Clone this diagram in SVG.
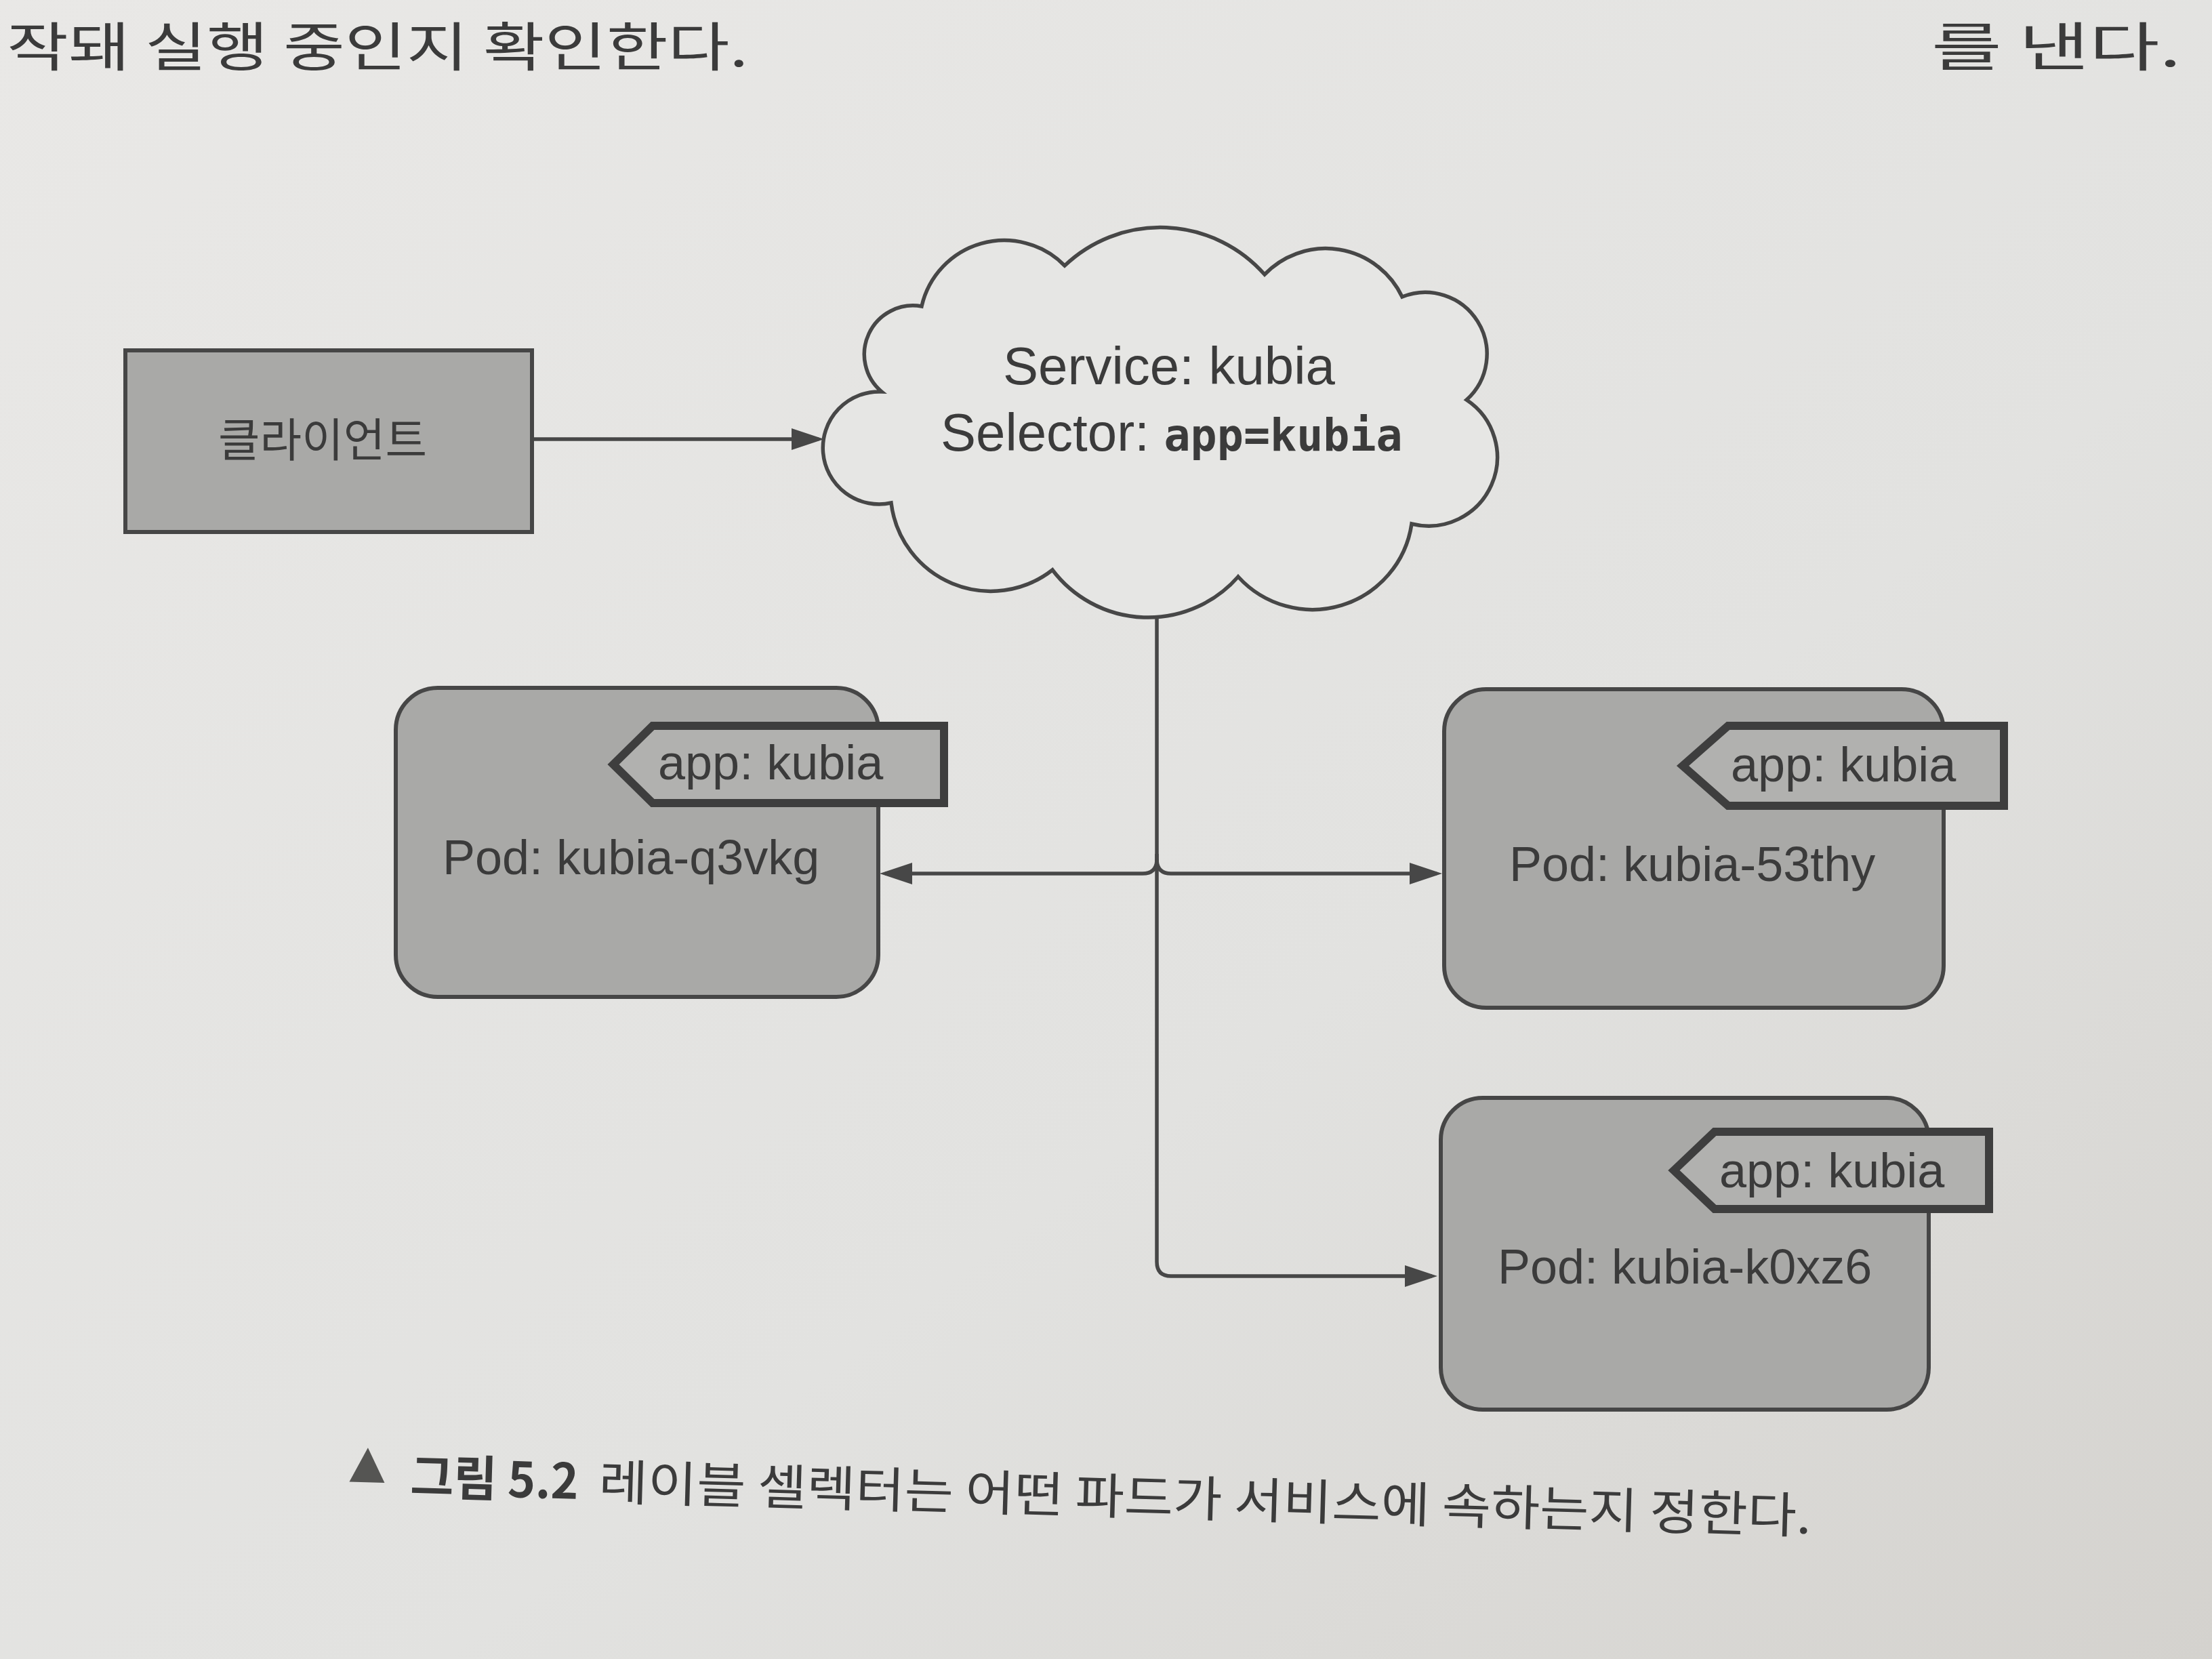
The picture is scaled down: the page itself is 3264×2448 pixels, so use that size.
<svg xmlns="http://www.w3.org/2000/svg" width="3264" height="2448" viewBox="0 0 3264 2448">
<style>
.ln{fill:none;stroke:#474747;stroke-width:5.5;stroke-linecap:butt;stroke-linejoin:round}
.box{fill:#a9a9a7;stroke:#464646;stroke-width:6}
.tag{fill:#b1b1af;stroke:#3e3e3e;stroke-width:12;stroke-linejoin:miter}
.t{font-family:"Liberation Sans",Arial,sans-serif;fill:#3b3b3b}
.k{font-family:"Noto Sans CJK KR","Noto Sans",sans-serif;fill:#3b3b3b}
</style>
<defs>
<linearGradient id="paper" x1="0" y1="0" x2="1" y2="1">
<stop offset="0" stop-color="#e9e8e6"/>
<stop offset="0.6" stop-color="#e2e2e0"/>
<stop offset="1" stop-color="#d4d2ce"/>
</linearGradient>
<marker id="ah" markerUnits="userSpaceOnUse" markerWidth="48" markerHeight="32" refX="40" refY="16" orient="auto">
<path d="M0,0 L48,16 L0,32 Z" fill="#474747"/>
</marker>
</defs>
<rect x="0" y="0" width="3264" height="2448" fill="url(#paper)"/>
<g id="page-text">
<text class="k" x="10" y="98" font-size="78" textLength="1094" lengthAdjust="spacingAndGlyphs">작돼 실행 중인지 확인한다.</text>
<text class="k" x="2850" y="98" font-size="78" textLength="368" lengthAdjust="spacingAndGlyphs">를 낸다.</text>
</g>
<g id="connectors">
<path class="ln" d="M787,648 H1208" marker-end="url(#ah)"/>
<path class="ln" d="M1707,913 V1268 Q1707,1289 1686,1289 H1306" marker-end="url(#ah)"/>
<path class="ln" d="M1707,1268 Q1707,1289 1728,1289 H2120" marker-end="url(#ah)"/>
<path class="ln" d="M1707,1260 V1862 Q1707,1883 1728,1883 H2113" marker-end="url(#ah)"/>
</g>
<g id="client">
<rect class="box" x="185" y="517" width="600" height="268"/>
<text class="k" x="322" y="674" font-size="68" textLength="308" lengthAdjust="spacingAndGlyphs">클라이언트</text>
</g>
<g id="service">
<path d="M1360,452 A125,125 0 0 1 1571,392 A205,205 0 0 1 1866,405 A125,125 0 0 1 2069,438 A91,91 0 0 1 2164,590 A101.5,101.5 0 0 1 2083,773 A148,148 0 0 1 1827,851 A177,177 0 0 1 1553,841 A148,148 0 0 1 1315,742 A83,83 0 1 1 1301,578 A72,72 0 0 1 1360,452 Z" fill="#e6e6e4" stroke="#474747" stroke-width="5.5" stroke-linejoin="miter"/>
<text class="t" x="1725" y="567" font-size="78" text-anchor="middle">Service: kubia</text>
<text class="t" x="1388" y="665" font-size="78">Selector: <tspan font-family="'DejaVu Sans Mono',monospace" font-weight="bold" font-size="65">app=kubia</tspan></text>
</g>
<g id="pod-q3vkg">
<rect class="box" x="584" y="1015" width="712" height="456" rx="62" ry="62"/>
<polygon class="tag" points="905,1128 963,1071 1393,1071 1393,1185 963,1185"/>
<text class="t" x="971" y="1150" font-size="72">app: kubia</text>
<text class="t" x="653" y="1290" font-size="72">Pod: kubia-q3vkg</text>
</g>
<g id="pod-53thy">
<rect class="box" x="2131" y="1017" width="737" height="470" rx="62" ry="62"/>
<polygon class="tag" points="2483,1130 2550,1071 2957,1071 2957,1189 2550,1189"/>
<text class="t" x="2554" y="1153" font-size="72">app: kubia</text>
<text class="t" x="2227" y="1300" font-size="72">Pod: kubia-53thy</text>
</g>
<g id="pod-k0xz6">
<rect class="box" x="2126" y="1620" width="720" height="460" rx="62" ry="62"/>
<polygon class="tag" points="2470,1727 2530,1670 2935,1670 2935,1784 2530,1784"/>
<text class="t" x="2537" y="1752" font-size="72">app: kubia</text>
<text class="t" x="2210" y="1894" font-size="72">Pod: kubia-k0xz6</text>
</g>
<g id="caption" transform="rotate(1.6 605 2205)">
<polygon points="515,2189 541,2138 567,2189" fill="#555553"/>
<text class="k" x="605" y="2205" font-size="72" font-weight="bold" textLength="248" lengthAdjust="spacingAndGlyphs">그림 5.2</text>
<text class="k" x="883" y="2205" font-size="72" textLength="1790" lengthAdjust="spacingAndGlyphs">레이블 셀렉터는 어떤 파드가 서비스에 속하는지 정한다.</text>
</g>
</svg>
